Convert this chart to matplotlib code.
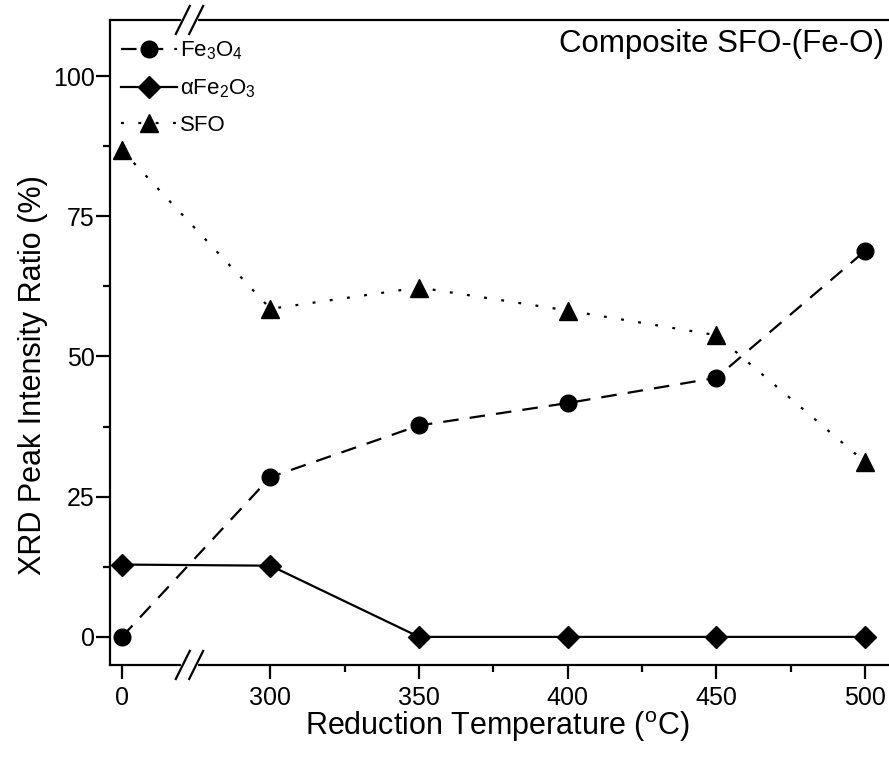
import numpy as np
import matplotlib
matplotlib.use('Agg')
import matplotlib.pyplot as plt
from matplotlib.ticker import FixedLocator

plt.rcParams['font.family'] = ['Liberation Sans', 'DejaVu Sans']
plt.rcParams['mathtext.fontset'] = 'custom'
plt.rcParams['mathtext.rm'] = 'Liberation Sans'
plt.rcParams['mathtext.it'] = 'Liberation Sans'

# data
temps = ['0', '300', '350', '400', '450', '500']
fe3o4 = [0.0, 28.5, 37.7, 41.7, 46.2, 68.8]
fe2o3 = [12.9, 12.7, 0.0, 0.0, 0.0, 0.0]
sfo = [86.8, 58.5, 62.3, 58.2, 53.8, 31.2]

x = np.arange(len(temps))

fig = plt.figure(figsize=(8.89, 7.63), dpi=100)
ax = fig.add_axes([0.1237, 0.1285, 0.8763, 0.8453])

ax.plot(x, fe3o4, color='black', lw=1.6, dashes=(7, 5), marker='o', ms=12,
        label=r'Fe$_3$O$_4$')
ax.plot(x, fe2o3, color='black', lw=1.6, ls='-', marker='D', ms=11,
        label=r'αFe$_2$O$_3$')
ax.plot(x, sfo, color='black', lw=1.6, dashes=(1.3, 6.5), marker='^', ms=13,
        label='SFO')

ax.set_xlim(-0.08, 5.162)
ax.set_ylim(-5, 110)

ax.set_xticks(x)
ax.set_xticklabels(temps)
ax.xaxis.set_minor_locator(FixedLocator([1.5, 2.5, 3.5, 4.5]))
ax.set_yticks([0, 25, 50, 75, 100])
ax.yaxis.set_minor_locator(FixedLocator([12.5, 37.5, 62.5, 87.5]))
ax.tick_params(axis='both', which='major', direction='out', length=10, width=1.6,
               labelsize=18)
ax.tick_params(axis='both', which='minor', direction='out', length=5, width=1.6)
ax.tick_params(axis='x', which='major', pad=5)
ax.tick_params(axis='y', which='major', pad=1)

for side in ['left', 'bottom', 'top']:
    ax.spines[side].set_linewidth(1.6)
ax.spines['right'].set_visible(False)

ax.set_xlabel(r'Reduction Temperature ($^{\mathrm{o}}$C)', fontsize=22)
ax.set_ylabel('XRD Peak Intensity Ratio (%)', fontsize=22)
ax.xaxis.set_label_coords(0.497, -0.068)
ax.yaxis.set_label_coords(-0.08, 0.45)

# axis break marks between 0 and 300
xb = 0.455
for yb in [-5, 110]:
    ax.plot([xb - 0.045, xb + 0.045], [yb, yb], color='white', lw=3,
            clip_on=False, zorder=5)
    for dx in [-0.045, 0.045]:
        ax.plot([xb + dx - 0.047, xb + dx + 0.047], [yb - 2.5, yb + 2.5],
                color='black', lw=1.6, clip_on=False, zorder=6)

ax.text(0.994, 0.962, 'Composite SFO-(Fe-O)', transform=fig.transFigure,
        ha='right', va='top', fontsize=22.5)

ax.legend(loc='upper left', bbox_to_anchor=(-0.003, 0.99), frameon=False,
          fontsize=16, handlelength=2.5, handletextpad=0.15, labelspacing=0.68,
          borderaxespad=0.2, numpoints=1, markerscale=1.0)

fig.savefig('out.png', dpi=100)
